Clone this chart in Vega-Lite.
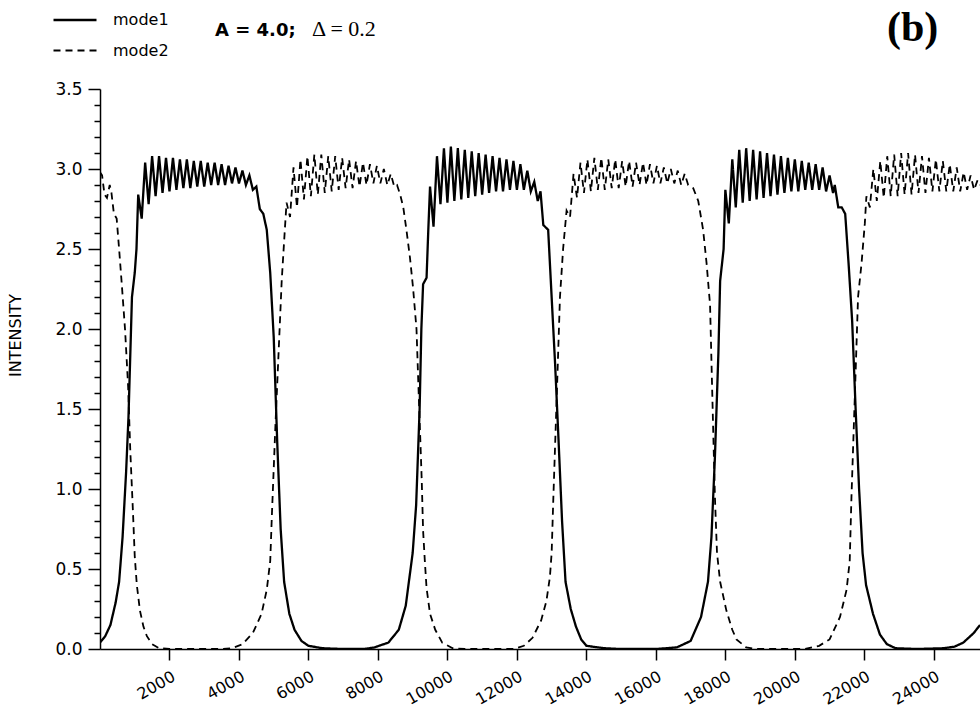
{
"$schema": "https://vega.github.io/schema/vega-lite/v6.json",
"width": 880, "height": 560,
"autosize": {"type": "none"},
"padding": {"left": 100, "top": 89, "right": 0, "bottom": 60},
"background": "white",
"config": {"view": {"stroke": null}, "font": "DejaVu Sans"},
"layer": [
{
"data": {"values": [
{"m":"mode1","t":0,"v":0.04},{"m":"mode1","t":150,"v":0.08},{"m":"mode1","t":300,"v":0.15},{"m":"mode1","t":450,"v":0.29},{"m":"mode1","t":550,"v":0.42},{"m":"mode1","t":650,"v":0.7},{"m":"mode1","t":750,"v":1.1},{"m":"mode1","t":820,"v":1.45},{"m":"mode1","t":880,"v":1.9},{"m":"mode1","t":920,"v":2.2},{"m":"mode1","t":1000,"v":2.35},{"m":"mode1","t":1050,"v":2.5},
{"m":"mode1","t":1100,"v":2.84},{"m":"mode1","t":1200,"v":2.69},{"m":"mode1","t":1300,"v":3.04},{"m":"mode1","t":1400,"v":2.78},{"m":"mode1","t":1500,"v":3.08},{"m":"mode1","t":1600,"v":2.83},{"m":"mode1","t":1700,"v":3.08},{"m":"mode1","t":1800,"v":2.85},{"m":"mode1","t":1900,"v":3.07},{"m":"mode1","t":2000,"v":2.86},{"m":"mode1","t":2100,"v":3.07},{"m":"mode1","t":2200,"v":2.87},{"m":"mode1","t":2300,"v":3.06},{"m":"mode1","t":2400,"v":2.88},{"m":"mode1","t":2500,"v":3.06},{"m":"mode1","t":2600,"v":2.88},{"m":"mode1","t":2700,"v":3.05},{"m":"mode1","t":2800,"v":2.89},{"m":"mode1","t":2900,"v":3.05},{"m":"mode1","t":3000,"v":2.89},{"m":"mode1","t":3100,"v":3.04},{"m":"mode1","t":3200,"v":2.9},{"m":"mode1","t":3300,"v":3.04},{"m":"mode1","t":3400,"v":2.9},{"m":"mode1","t":3500,"v":3.03},{"m":"mode1","t":3600,"v":2.9},{"m":"mode1","t":3700,"v":3.02},{"m":"mode1","t":3800,"v":2.91},{"m":"mode1","t":3900,"v":3.01},{"m":"mode1","t":4000,"v":2.91},{"m":"mode1","t":4100,"v":2.99},{"m":"mode1","t":4200,"v":2.9},{"m":"mode1","t":4300,"v":2.96},{"m":"mode1","t":4400,"v":2.87},{"m":"mode1","t":4500,"v":2.89},
{"m":"mode1","t":4600,"v":2.75},{"m":"mode1","t":4700,"v":2.72},{"m":"mode1","t":4800,"v":2.62},{"m":"mode1","t":4900,"v":2.35},{"m":"mode1","t":5000,"v":1.95},{"m":"mode1","t":5100,"v":1.3},{"m":"mode1","t":5200,"v":0.75},{"m":"mode1","t":5300,"v":0.42},{"m":"mode1","t":5450,"v":0.22},{"m":"mode1","t":5600,"v":0.12},{"m":"mode1","t":5800,"v":0.05},{"m":"mode1","t":6000,"v":0.02},{"m":"mode1","t":6400,"v":0.005},{"m":"mode1","t":7000,"v":0},{"m":"mode1","t":7600,"v":0},{"m":"mode1","t":7900,"v":0.01},{"m":"mode1","t":8300,"v":0.04},{"m":"mode1","t":8600,"v":0.12},{"m":"mode1","t":8800,"v":0.27},{"m":"mode1","t":9000,"v":0.6},{"m":"mode1","t":9100,"v":0.9},{"m":"mode1","t":9200,"v":1.5},{"m":"mode1","t":9250,"v":2.0},{"m":"mode1","t":9300,"v":2.28},{"m":"mode1","t":9400,"v":2.32},{"m":"mode1","t":9450,"v":2.62},
{"m":"mode1","t":9500,"v":2.89},{"m":"mode1","t":9600,"v":2.64},{"m":"mode1","t":9700,"v":3.08},{"m":"mode1","t":9800,"v":2.78},{"m":"mode1","t":9900,"v":3.13},{"m":"mode1","t":10000,"v":2.79},{"m":"mode1","t":10100,"v":3.14},{"m":"mode1","t":10200,"v":2.8},{"m":"mode1","t":10300,"v":3.13},{"m":"mode1","t":10400,"v":2.81},{"m":"mode1","t":10500,"v":3.12},{"m":"mode1","t":10600,"v":2.82},{"m":"mode1","t":10700,"v":3.11},{"m":"mode1","t":10800,"v":2.83},{"m":"mode1","t":10900,"v":3.1},{"m":"mode1","t":11000,"v":2.84},{"m":"mode1","t":11100,"v":3.09},{"m":"mode1","t":11200,"v":2.85},{"m":"mode1","t":11300,"v":3.08},{"m":"mode1","t":11400,"v":2.86},{"m":"mode1","t":11500,"v":3.07},{"m":"mode1","t":11600,"v":2.86},{"m":"mode1","t":11700,"v":3.06},{"m":"mode1","t":11800,"v":2.87},{"m":"mode1","t":11900,"v":3.05},{"m":"mode1","t":12000,"v":2.87},{"m":"mode1","t":12100,"v":3.03},{"m":"mode1","t":12200,"v":2.87},{"m":"mode1","t":12300,"v":2.99},{"m":"mode1","t":12400,"v":2.86},{"m":"mode1","t":12500,"v":2.92},{"m":"mode1","t":12600,"v":2.8},{"m":"mode1","t":12680,"v":2.86},
{"m":"mode1","t":12760,"v":2.65},{"m":"mode1","t":12900,"v":2.62},{"m":"mode1","t":13000,"v":2.2},{"m":"mode1","t":13100,"v":1.78},{"m":"mode1","t":13200,"v":1.3},{"m":"mode1","t":13300,"v":0.8},{"m":"mode1","t":13400,"v":0.42},{"m":"mode1","t":13550,"v":0.25},{"m":"mode1","t":13700,"v":0.14},{"m":"mode1","t":13850,"v":0.06},{"m":"mode1","t":14000,"v":0.02},{"m":"mode1","t":14500,"v":0.005},{"m":"mode1","t":15000,"v":0},{"m":"mode1","t":16000,"v":0},{"m":"mode1","t":16600,"v":0.01},{"m":"mode1","t":17000,"v":0.05},{"m":"mode1","t":17300,"v":0.2},{"m":"mode1","t":17500,"v":0.42},{"m":"mode1","t":17600,"v":0.7},{"m":"mode1","t":17700,"v":1.2},{"m":"mode1","t":17800,"v":1.85},{"m":"mode1","t":17850,"v":2.3},{"m":"mode1","t":17950,"v":2.5},
{"m":"mode1","t":18000,"v":2.87},{"m":"mode1","t":18100,"v":2.66},{"m":"mode1","t":18200,"v":3.06},{"m":"mode1","t":18300,"v":2.76},{"m":"mode1","t":18400,"v":3.12},{"m":"mode1","t":18500,"v":2.79},{"m":"mode1","t":18600,"v":3.13},{"m":"mode1","t":18700,"v":2.8},{"m":"mode1","t":18800,"v":3.12},{"m":"mode1","t":18900,"v":2.81},{"m":"mode1","t":19000,"v":3.11},{"m":"mode1","t":19100,"v":2.82},{"m":"mode1","t":19200,"v":3.1},{"m":"mode1","t":19300,"v":2.83},{"m":"mode1","t":19400,"v":3.09},{"m":"mode1","t":19500,"v":2.84},{"m":"mode1","t":19600,"v":3.08},{"m":"mode1","t":19700,"v":2.85},{"m":"mode1","t":19800,"v":3.07},{"m":"mode1","t":19900,"v":2.86},{"m":"mode1","t":20000,"v":3.06},{"m":"mode1","t":20100,"v":2.86},{"m":"mode1","t":20200,"v":3.05},{"m":"mode1","t":20300,"v":2.87},{"m":"mode1","t":20400,"v":3.04},{"m":"mode1","t":20500,"v":2.87},{"m":"mode1","t":20600,"v":3.03},{"m":"mode1","t":20700,"v":2.87},{"m":"mode1","t":20800,"v":3.01},{"m":"mode1","t":20900,"v":2.86},{"m":"mode1","t":21000,"v":2.96},{"m":"mode1","t":21100,"v":2.85},{"m":"mode1","t":21150,"v":2.9},
{"m":"mode1","t":21250,"v":2.76},{"m":"mode1","t":21350,"v":2.76},{"m":"mode1","t":21450,"v":2.72},{"m":"mode1","t":21550,"v":2.4},{"m":"mode1","t":21650,"v":2.05},{"m":"mode1","t":21750,"v":1.5},{"m":"mode1","t":21850,"v":1.0},{"m":"mode1","t":21950,"v":0.6},{"m":"mode1","t":22050,"v":0.4},{"m":"mode1","t":22250,"v":0.22},{"m":"mode1","t":22450,"v":0.09},{"m":"mode1","t":22650,"v":0.03},{"m":"mode1","t":22900,"v":0.005},{"m":"mode1","t":23500,"v":0},{"m":"mode1","t":24300,"v":0.005},{"m":"mode1","t":24600,"v":0.015},{"m":"mode1","t":24850,"v":0.04},{"m":"mode1","t":25000,"v":0.07},{"m":"mode1","t":25150,"v":0.1},{"m":"mode1","t":25330,"v":0.15},
{"m":"mode2","t":0,"v":2.98},{"m":"mode2","t":60,"v":2.96},{"m":"mode2","t":130,"v":2.84},{"m":"mode2","t":200,"v":2.82},{"m":"mode2","t":280,"v":2.9},{"m":"mode2","t":330,"v":2.85},{"m":"mode2","t":400,"v":2.72},{"m":"mode2","t":480,"v":2.69},{"m":"mode2","t":550,"v":2.5},{"m":"mode2","t":620,"v":2.3},{"m":"mode2","t":720,"v":2.0},{"m":"mode2","t":810,"v":1.64},{"m":"mode2","t":870,"v":1.25},{"m":"mode2","t":950,"v":0.85},{"m":"mode2","t":1000,"v":0.58},{"m":"mode2","t":1060,"v":0.4},{"m":"mode2","t":1150,"v":0.24},{"m":"mode2","t":1250,"v":0.14},{"m":"mode2","t":1350,"v":0.08},{"m":"mode2","t":1500,"v":0.03},{"m":"mode2","t":1700,"v":0.005},{"m":"mode2","t":2000,"v":0},{"m":"mode2","t":3500,"v":0},
{"m":"mode2","t":3800,"v":0.005},{"m":"mode2","t":4100,"v":0.03},{"m":"mode2","t":4400,"v":0.1},{"m":"mode2","t":4650,"v":0.22},{"m":"mode2","t":4800,"v":0.37},{"m":"mode2","t":4900,"v":0.55},{"m":"mode2","t":4950,"v":0.85},{"m":"mode2","t":5050,"v":1.4},{"m":"mode2","t":5130,"v":1.8},{"m":"mode2","t":5230,"v":2.3},{"m":"mode2","t":5320,"v":2.62},{"m":"mode2","t":5370,"v":2.79},{"m":"mode2","t":5470,"v":2.7},
{"m":"mode2","t":5570,"v":3.01},{"m":"mode2","t":5670,"v":2.76},{"m":"mode2","t":5770,"v":3.06},{"m":"mode2","t":5870,"v":2.81},{"m":"mode2","t":5970,"v":3.08},{"m":"mode2","t":6070,"v":2.83},{"m":"mode2","t":6170,"v":3.09},{"m":"mode2","t":6270,"v":2.84},{"m":"mode2","t":6370,"v":3.09},{"m":"mode2","t":6470,"v":2.85},{"m":"mode2","t":6570,"v":3.08},{"m":"mode2","t":6670,"v":2.86},{"m":"mode2","t":6770,"v":3.08},{"m":"mode2","t":6870,"v":2.87},{"m":"mode2","t":6970,"v":3.07},{"m":"mode2","t":7070,"v":2.88},{"m":"mode2","t":7170,"v":3.06},{"m":"mode2","t":7270,"v":2.88},{"m":"mode2","t":7370,"v":3.05},{"m":"mode2","t":7470,"v":2.89},{"m":"mode2","t":7570,"v":3.04},{"m":"mode2","t":7670,"v":2.9},{"m":"mode2","t":7770,"v":3.03},{"m":"mode2","t":7870,"v":2.91},{"m":"mode2","t":7970,"v":3.02},{"m":"mode2","t":8070,"v":2.91},{"m":"mode2","t":8170,"v":3.0},{"m":"mode2","t":8270,"v":2.9},{"m":"mode2","t":8370,"v":2.97},{"m":"mode2","t":8470,"v":2.89},
{"m":"mode2","t":8550,"v":2.9},{"m":"mode2","t":8640,"v":2.84},{"m":"mode2","t":8730,"v":2.76},{"m":"mode2","t":8820,"v":2.62},{"m":"mode2","t":8920,"v":2.45},{"m":"mode2","t":9010,"v":2.26},{"m":"mode2","t":9110,"v":2.0},{"m":"mode2","t":9160,"v":1.68},{"m":"mode2","t":9210,"v":1.37},{"m":"mode2","t":9260,"v":1.06},{"m":"mode2","t":9300,"v":0.74},{"m":"mode2","t":9350,"v":0.55},{"m":"mode2","t":9400,"v":0.38},{"m":"mode2","t":9500,"v":0.22},{"m":"mode2","t":9650,"v":0.12},{"m":"mode2","t":9850,"v":0.04},{"m":"mode2","t":10150,"v":0.005},{"m":"mode2","t":10500,"v":0},{"m":"mode2","t":11900,"v":0},
{"m":"mode2","t":12200,"v":0.02},{"m":"mode2","t":12450,"v":0.07},{"m":"mode2","t":12700,"v":0.18},{"m":"mode2","t":12850,"v":0.3},{"m":"mode2","t":12950,"v":0.45},{"m":"mode2","t":13000,"v":0.6},{"m":"mode2","t":13050,"v":0.95},{"m":"mode2","t":13150,"v":1.6},{"m":"mode2","t":13240,"v":2.2},{"m":"mode2","t":13330,"v":2.5},{"m":"mode2","t":13430,"v":2.74},{"m":"mode2","t":13530,"v":2.7},
{"m":"mode2","t":13630,"v":2.97},{"m":"mode2","t":13730,"v":2.82},{"m":"mode2","t":13830,"v":3.04},{"m":"mode2","t":13930,"v":2.85},{"m":"mode2","t":14030,"v":3.06},{"m":"mode2","t":14130,"v":2.86},{"m":"mode2","t":14230,"v":3.07},{"m":"mode2","t":14330,"v":2.87},{"m":"mode2","t":14430,"v":3.07},{"m":"mode2","t":14530,"v":2.87},{"m":"mode2","t":14630,"v":3.06},{"m":"mode2","t":14730,"v":2.88},{"m":"mode2","t":14830,"v":3.06},{"m":"mode2","t":14930,"v":2.88},{"m":"mode2","t":15030,"v":3.05},{"m":"mode2","t":15130,"v":2.89},{"m":"mode2","t":15230,"v":3.05},{"m":"mode2","t":15330,"v":2.89},{"m":"mode2","t":15430,"v":3.04},{"m":"mode2","t":15530,"v":2.9},{"m":"mode2","t":15630,"v":3.04},{"m":"mode2","t":15730,"v":2.9},{"m":"mode2","t":15830,"v":3.03},{"m":"mode2","t":15930,"v":2.91},{"m":"mode2","t":16030,"v":3.02},{"m":"mode2","t":16130,"v":2.91},{"m":"mode2","t":16230,"v":3.01},{"m":"mode2","t":16330,"v":2.91},{"m":"mode2","t":16430,"v":3.0},{"m":"mode2","t":16530,"v":2.91},{"m":"mode2","t":16630,"v":2.99},{"m":"mode2","t":16730,"v":2.9},{"m":"mode2","t":16830,"v":2.97},{"m":"mode2","t":16930,"v":2.9},
{"m":"mode2","t":17075,"v":2.88},{"m":"mode2","t":17220,"v":2.8},{"m":"mode2","t":17360,"v":2.62},{"m":"mode2","t":17460,"v":2.41},{"m":"mode2","t":17560,"v":2.15},{"m":"mode2","t":17600,"v":1.8},{"m":"mode2","t":17650,"v":1.37},{"m":"mode2","t":17700,"v":0.95},{"m":"mode2","t":17760,"v":0.6},{"m":"mode2","t":17850,"v":0.42},{"m":"mode2","t":18030,"v":0.24},{"m":"mode2","t":18200,"v":0.12},{"m":"mode2","t":18320,"v":0.06},{"m":"mode2","t":18600,"v":0.01},{"m":"mode2","t":18900,"v":0},{"m":"mode2","t":20300,"v":0},
{"m":"mode2","t":20700,"v":0.02},{"m":"mode2","t":21000,"v":0.06},{"m":"mode2","t":21300,"v":0.2},{"m":"mode2","t":21490,"v":0.37},{"m":"mode2","t":21580,"v":0.55},{"m":"mode2","t":21630,"v":0.95},{"m":"mode2","t":21730,"v":1.6},{"m":"mode2","t":21820,"v":2.2},{"m":"mode2","t":21920,"v":2.41},{"m":"mode2","t":22015,"v":2.66},{"m":"mode2","t":22060,"v":2.83},{"m":"mode2","t":22160,"v":2.76},
{"m":"mode2","t":22260,"v":3.0},{"m":"mode2","t":22360,"v":2.8},{"m":"mode2","t":22460,"v":3.05},{"m":"mode2","t":22560,"v":2.82},{"m":"mode2","t":22660,"v":3.08},{"m":"mode2","t":22760,"v":2.83},{"m":"mode2","t":22860,"v":3.09},{"m":"mode2","t":22960,"v":2.83},{"m":"mode2","t":23060,"v":3.1},{"m":"mode2","t":23160,"v":2.84},{"m":"mode2","t":23260,"v":3.1},{"m":"mode2","t":23360,"v":2.84},{"m":"mode2","t":23460,"v":3.09},{"m":"mode2","t":23560,"v":2.85},{"m":"mode2","t":23660,"v":3.08},{"m":"mode2","t":23760,"v":2.85},{"m":"mode2","t":23860,"v":3.07},{"m":"mode2","t":23960,"v":2.86},{"m":"mode2","t":24060,"v":3.06},{"m":"mode2","t":24160,"v":2.86},{"m":"mode2","t":24260,"v":3.05},{"m":"mode2","t":24360,"v":2.86},{"m":"mode2","t":24460,"v":3.03},{"m":"mode2","t":24560,"v":2.86},{"m":"mode2","t":24660,"v":3.01},{"m":"mode2","t":24760,"v":2.86},{"m":"mode2","t":24860,"v":2.98},{"m":"mode2","t":24960,"v":2.87},{"m":"mode2","t":25060,"v":2.96},{"m":"mode2","t":25160,"v":2.87},{"m":"mode2","t":25260,"v":2.93},{"m":"mode2","t":25330,"v":2.9}
]},
"mark": {"type": "line", "color": "black", "clip": true},
"encoding": {
"x": {"field": "t", "type": "quantitative",
 "scale": {"domain": [0, 25330], "nice": false, "zero": false},
 "axis": {"values": [2000,4000,6000,8000,10000,12000,14000,16000,18000,20000,22000,24000], "format": "d", "tickCount": 100,
  "labelAngle": -30, "labelAlign": "right", "labelBaseline": "top", "labelFont": "DejaVu Sans", "labelFontSize": 16, "labelColor": "black", "labelPadding": 8, "labelOverlap": false,
  "tickSize": 11, "tickColor": "black", "tickWidth": 1.5, "domainColor": "black", "domainWidth": 1.5, "grid": false, "title": null}},
"y": {"field": "v", "type": "quantitative",
 "scale": {"domain": [0, 3.5], "nice": false},
 "axis": {"values": [0,0.1,0.2,0.3,0.4,0.5,0.6,0.7,0.8,0.9,1,1.1,1.2,1.3,1.4,1.5,1.6,1.7,1.8,1.9,2,2.1,2.2,2.3,2.4,2.5,2.6,2.7,2.8,2.9,3,3.1,3.2,3.3,3.4,3.5],
  "tickCount": 100,
  "labelExpr": "abs(datum.value*2 - round(datum.value*2)) < 0.001 ? format(datum.value, '.1f') : ''",
  "tickSize": {"condition": {"test": "abs(datum.value*2 - round(datum.value*2)) < 0.001", "value": 12}, "value": 6},
  "labelFont": "DejaVu Sans", "labelFontSize": 17, "labelColor": "black", "labelPadding": 6, "labelOverlap": false,
  "tickColor": "black", "tickWidth": 1.5, "domainColor": "black", "domainWidth": 1.5, "grid": false,
  "title": "INTENSITY", "titleFont": "DejaVu Sans", "titleFontSize": 16, "titleFontWeight": "normal", "titleColor": "black",
  "titleX": -85, "titleY": 246, "titleAngle": -90, "titleAlign": "center", "titleBaseline": "middle"}},
"strokeDash": {"field": "m", "type": "nominal",
 "scale": {"domain": ["mode1", "mode2"], "range": [[1, 0], [7, 5]]},
 "legend": {"orient": "none", "legendX": -48, "legendY": -92, "title": null, "symbolType": "stroke", "symbolSize": 1849, "symbolStrokeWidth": 1.5, "symbolStrokeColor": "black", "labelFont": "DejaVu Sans", "labelFontSize": 16, "labelColor": "black", "labelOffset": 15, "rowPadding": -15, "padding": 0}},
"strokeWidth": {"field": "m", "type": "nominal", "scale": {"domain": ["mode1", "mode2"], "range": [2.3, 1.8]}, "legend": null}
}
},
{
"data": {"values": [{"s": "A = 4.0;"}]},
"mark": {"type": "text", "font": "DejaVu Sans", "fontWeight": "bold", "fontSize": 18, "align": "left", "baseline": "alphabetic", "color": "black"},
"encoding": {"text": {"field": "s"}, "x": {"datum": 3310}, "y": {"datum": 3.831}}
},
{
"data": {"values": [{"s": "Δ = 0.2"}]},
"mark": {"type": "text", "font": "Liberation Serif", "fontSize": 22, "align": "left", "baseline": "alphabetic", "color": "black"},
"encoding": {"text": {"field": "s"}, "x": {"datum": 6101}, "y": {"datum": 3.831}}
},
{
"data": {"values": [{"s": "(b)"}]},
"mark": {"type": "text", "font": "Liberation Serif", "fontWeight": "bold", "fontSize": 42, "align": "left", "baseline": "alphabetic", "color": "black"},
"encoding": {"text": {"field": "s"}, "x": {"datum": 22650}, "y": {"datum": 3.8}}
}
]
}
